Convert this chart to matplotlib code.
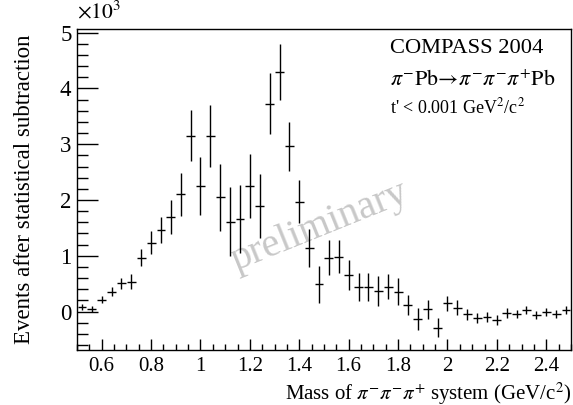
import numpy as np
import matplotlib
matplotlib.use('Agg')
import matplotlib.pyplot as plt
from matplotlib.ticker import MultipleLocator, FuncFormatter

plt.rcParams['font.family'] = ['Liberation Serif', 'DejaVu Serif']
plt.rcParams['mathtext.fontset'] = 'stix'

# 3pi mass spectrum, 50 bins of 0.04 GeV from 0.5 to 2.5
mass = np.arange(50) * 0.04 + 0.52
events = [86, 45, 210, 355, 510, 535, 966, 1235, 1457, 1697,
          2100, 3150, 2253, 3145, 2050, 1610, 1655, 2253, 1894, 3730,
          4300, 2960, 1970, 1146, 488, 966, 984, 655, 446, 446,
          368, 446, 356, 117, -135, 40, -290, 147, 70, -50,
          -120, -93, -153, -30, -45, 27, -63, -3, -45, 27]
errors = [50, 50, 60, 80, 100, 130, 150, 200, 230, 300,
          380, 455, 520, 560, 600, 620, 610, 580, 575, 540,
          500, 440, 390, 340, 335, 310, 290, 270, 250, 250,
          270, 230, 240, 180, 190, 170, 165, 135, 135, 100,
          90, 90, 90, 90, 80, 70, 70, 70, 70, 70]

fig = plt.figure(figsize=(5.73, 4.05), dpi=100)
ax = fig.add_axes([0.1344, 0.1358, 0.862, 0.7926])

ax.errorbar(mass, events, yerr=errors, xerr=0.018, fmt='none',
            ecolor='black', elinewidth=1.0, capsize=0)

ax.set_xlim(0.5, 2.5)
ax.set_ylim(-690, 5066)

ax.xaxis.set_major_locator(MultipleLocator(0.2))
ax.xaxis.set_minor_locator(MultipleLocator(0.05))
ax.yaxis.set_major_locator(MultipleLocator(1000))
ax.yaxis.set_minor_locator(MultipleLocator(200))
ax.xaxis.set_major_formatter(FuncFormatter(lambda v, p: ('%.1f' % v).rstrip('0').rstrip('.')))
ax.yaxis.set_major_formatter(FuncFormatter(lambda v, p: '%d' % round(v / 1000)))

ax.tick_params(which='both', direction='in', top=False, right=False, width=1)
ax.tick_params(axis='x', labelsize=15)
ax.tick_params(axis='y', labelsize=16.5)
ax.tick_params(axis='y', which='major', length=15, pad=4)
ax.tick_params(axis='y', which='minor', length=8)
ax.tick_params(axis='x', which='major', length=8, pad=5)
ax.tick_params(axis='x', which='minor', length=4)
for s in ax.spines.values():
    s.set_linewidth(1)

ax.set_xlabel(r'Mass of $\pi^{-}\pi^{-}\pi^{+}$ system (GeV/c$^{2}$)', fontsize=15,
              loc='right', labelpad=3)
ax.set_ylabel('Events after statistical subtraction', fontsize=16.5, loc='center', labelpad=18)

fig.text(0.134, 0.942, r'$\times10^{3}$', fontsize=15.5, ha='left', va='bottom')

ax.text(0.634, 0.94, 'COMPASS 2004', transform=ax.transAxes, fontsize=16.2, va='center')
ax.text(0.634, 0.84, r'$\pi^{-}\mathrm{Pb}\!\rightarrow\!\pi^{-}\pi^{-}\pi^{+}\mathrm{Pb}$',
        transform=ax.transAxes, fontsize=15.8, va='center')
ax.text(0.634, 0.755, r"t' < 0.001 GeV$^{2}$/c$^{2}$", transform=ax.transAxes,
        fontsize=13, va='center')

ax.text(0.492, 0.385, 'preliminary', transform=ax.transAxes, fontsize=29,
        color='#c8c8c8', rotation=22, ha='center', va='center', zorder=0)

fig.savefig('out.png', dpi=100)
